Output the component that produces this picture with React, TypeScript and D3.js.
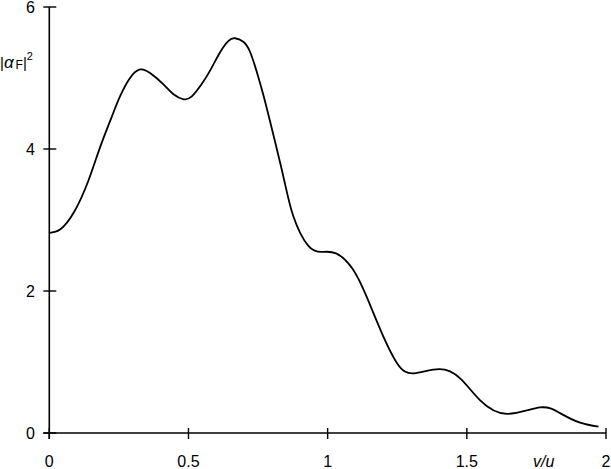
import React from "react";
import * as d3 from "d3";

const vValues = [0, 0.04, 0.09, 0.14, 0.182, 0.224, 0.254, 0.29, 0.326, 0.362, 0.41, 0.446, 0.483, 0.512, 0.545, 0.577, 0.613, 0.643, 0.667, 0.697, 0.721, 0.745, 0.769, 0.793, 0.841, 0.877, 0.93, 0.98, 1.03, 1.09, 1.14, 1.19, 1.25, 1.31, 1.4, 1.476, 1.548, 1.644, 1.763, 1.835, 1.907, 1.973];
const aValues = [2.82, 2.87, 3.12, 3.55, 4.02, 4.45, 4.74, 5.0, 5.12, 5.07, 4.91, 4.77, 4.7, 4.74, 4.9, 5.1, 5.36, 5.52, 5.56, 5.51, 5.37, 5.09, 4.76, 4.39, 3.61, 3.05, 2.64, 2.55, 2.53, 2.31, 1.92, 1.45, 0.98, 0.84, 0.9, 0.77, 0.46, 0.27, 0.36, 0.28, 0.145, 0.089];
const xTicks = [0, 0.5, 1, 1.5, 2];
const xTickLabels = ["0", "0.5", "1", "1.5", "2"];
const yTicks = [0, 2, 4, 6];
const yTickLabels = ["0", "2", "4", "6"];

export default function App() {
  const W = 611, H = 469;
  const x = d3.scaleLinear().domain([0, 2]).range([49.3, 606]);
  const y = d3.scaleLinear().domain([0, 6]).range([433, 7]);
  const pts = vValues.map((v, i) => [v, aValues[i]] as [number, number]);
  const line = d3.line<[number, number]>().x(d => x(d[0])).y(d => y(d[1])).curve(d3.curveNatural);
  const font = "'Liberation Sans', Arial, sans-serif";
  return (
    <svg width={W} height={H} style={{ position: "absolute", left: 0, top: 0, background: "#fff" }} fontFamily={font}>
      <rect x={0} y={0} width={W} height={H} fill="#fff" />
      <line x1={x(0) - 6} x2={x(2)} y1={y(0)} y2={y(0)} stroke="#000" strokeWidth={1.6} />
      <line x1={x(0)} x2={x(0)} y1={y(6)} y2={y(0) + 6} stroke="#000" strokeWidth={1.6} />
      {xTicks.map((t, i) => (
        <g key={"x" + i}>
          <line x1={x(t)} x2={x(t)} y1={y(0) - 5} y2={y(0) + 6} stroke="#000" strokeWidth={1.4} />
          <text x={x(t)} y={467} textAnchor="middle" fontSize={16} fill="#000">{xTickLabels[i]}</text>
        </g>
      ))}
      {yTicks.map((t, i) => (
        <g key={"y" + i}>
          <line x1={x(0) - 6} x2={x(0) + 7} y1={y(t)} y2={y(t)} stroke="#000" strokeWidth={1.4} />
          <text x={35} y={y(t) + 6} textAnchor="end" fontSize={16} fill="#000">{yTickLabels[i]}</text>
        </g>
      ))}
      <path d={line(pts) || ""} fill="none" stroke="#000" strokeWidth={1.8} />
      <text x={533} y={467} fontSize={16} fontStyle="italic" fill="#000">v/u</text>
      <text x={0} y={68} fontSize={15} fill="#000">
        <tspan>|</tspan>
        <tspan fontStyle="italic" fontSize={17}>α</tspan>
        <tspan fontSize={12} dx={2} dy={1}>F</tspan>
        <tspan dy={-1}>|</tspan>
        <tspan fontSize={11} dy={-8}>2</tspan>
      </text>
    </svg>
  );
}
